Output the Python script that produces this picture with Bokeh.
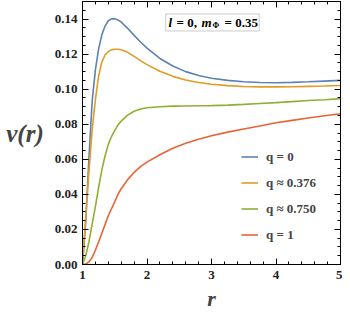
from bokeh.plotting import figure
from bokeh.models import (LinearAxis, Range1d, Label, Legend, LegendItem,
                          SingleIntervalTicker, NumeralTickFormatter, BoxAnnotation,
                          CustomJSTickFormatter)
from bokeh.embed import file_html
from bokeh.resources import INLINE

# ---- data ----
r = [1.0, 1.05, 1.1, 1.15, 1.2, 1.25, 1.3, 1.35, 1.4, 1.45, 1.5, 1.55, 1.6, 1.7, 1.8,
     1.9, 2.0, 2.2, 2.4, 2.6, 2.8, 3.0, 3.25, 3.5, 3.75, 4.0, 4.25, 4.5, 4.75, 5.0]
v_q0 = [0.0, 0.024, 0.061, 0.093, 0.111, 0.123, 0.131, 0.136, 0.1390, 0.1401, 0.1402,
        0.1395, 0.1383, 0.1347, 0.1307, 0.1269, 0.1234, 0.1175, 0.1132, 0.1100, 0.1078,
        0.1062, 0.1050, 0.1042, 0.1038, 0.1037, 0.1039, 0.1042, 0.1046, 0.1050]
v_q0376 = [0.0, 0.027, 0.053, 0.077, 0.094, 0.1075, 0.1155, 0.1195, 0.1215, 0.1224, 0.1228,
           0.1228, 0.1225, 0.1210, 0.1187, 0.1163, 0.1140, 0.1102, 0.1073, 0.1052, 0.1038,
           0.1028, 0.1020, 0.1015, 0.1013, 0.1013, 0.1014, 0.1016, 0.1018, 0.1021]
v_q0750 = [0.0, 0.005, 0.013, 0.023, 0.033, 0.044, 0.054, 0.062, 0.0685, 0.0730, 0.0765,
           0.0795, 0.0818, 0.0852, 0.0874, 0.0887, 0.0894, 0.0900, 0.0903, 0.0904, 0.0905,
           0.0906, 0.0909, 0.0913, 0.0918, 0.0923, 0.0929, 0.0935, 0.0940, 0.0946]
v_q1 = [0.0, 0.0003, 0.0015, 0.004, 0.0083, 0.0128, 0.0178, 0.0228, 0.0278, 0.0318, 0.0358,
        0.0400, 0.0432, 0.0484, 0.0525, 0.0558, 0.0584, 0.0626, 0.0663, 0.0692, 0.0714,
        0.0734, 0.0755, 0.0773, 0.0790, 0.0808, 0.0822, 0.0836, 0.0848, 0.0860]
series_labels = ["q = 0", "q ≈ 0.376", "q ≈ 0.750", "q = 1"]
colors = ["#5E81B5", "#E19C24", "#8FB032", "#EB6235"]

FONT = "Liberation Serif"

p = figure(width=342, height=313, x_range=Range1d(1, 5), y_range=Range1d(0, 0.15),
           output_backend="svg", toolbar_location=None,
           min_border_left=82, min_border_right=2, min_border_top=1, min_border_bottom=49)
p.title.visible = False
p.grid.visible = False
p.outline_line_color = "black"
p.background_fill_color = "white"
p.border_fill_color = "white"

def style(ax, show_labels):
    ax.axis_line_color = "black"
    ax.major_tick_line_color = "black"
    ax.minor_tick_line_color = "black"
    ax.major_tick_in = 6
    ax.major_tick_out = 0
    ax.minor_tick_in = 3
    ax.minor_tick_out = 0
    ax.major_label_text_font = FONT
    ax.major_label_text_font_style = "bold"
    ax.major_label_text_color = "#222222"
    if show_labels:
        ax.major_label_text_font_size = "13px"
    else:
        ax.formatter = CustomJSTickFormatter(code="return ''")
        ax.major_label_text_font_size = "1px"
        ax.major_label_standoff = 0

p.xaxis.ticker = SingleIntervalTicker(interval=1, num_minor_ticks=5)
p.yaxis.ticker = SingleIntervalTicker(interval=0.02, num_minor_ticks=4)
p.yaxis.formatter = NumeralTickFormatter(format="0.00")
style(p.xaxis[0], True)
style(p.yaxis[0], True)
p.xaxis.major_label_standoff = 6
p.yaxis.major_label_standoff = 5
p.xaxis.axis_label = "r"
p.xaxis.axis_label_text_font = FONT
p.xaxis.axis_label_text_font_style = "bold italic"
p.xaxis.axis_label_text_font_size = "22px"
p.xaxis.axis_label_standoff = 4

p.yaxis.axis_label = "v(r)"
p.yaxis.axis_label_orientation = "horizontal"
p.yaxis.axis_label_text_font = FONT
p.yaxis.axis_label_text_font_style = "bold italic"
p.yaxis.axis_label_text_font_size = "25px"
p.yaxis.axis_label_standoff = 8

rax = LinearAxis(ticker=SingleIntervalTicker(interval=0.02, num_minor_ticks=4))
style(rax, False)
p.add_layout(rax, "right")
tax = LinearAxis(ticker=SingleIntervalTicker(interval=1, num_minor_ticks=5))
style(tax, False)
p.add_layout(tax, "above")

ys = [v_q0, v_q0376, v_q0750, v_q1]
items = []
for y, c, lab in zip(ys, colors, series_labels):
    rr = p.line(r, y, line_color=c, line_width=1.6)
    items.append(LegendItem(label=lab, renderers=[rr]))

legend = Legend(items=items, location=(159, 20), border_line_alpha=0,
                background_fill_alpha=0, label_text_font=FONT,
                label_text_font_style="bold", label_text_font_size="13px",
                glyph_width=17, glyph_height=19, label_height=19, spacing=7,
                padding=0, margin=0, label_standoff=8)
p.add_layout(legend)

# info box
box = BoxAnnotation(left=2.29, right=3.74, top=0.1429, bottom=0.1332,
                    fill_color="white", fill_alpha=1, line_color="#555555", line_width=1)
p.add_layout(box)
ybox = (0.1429 + 0.1332) / 2
pieces = [("l", 0, "bold italic", "13px", 0),
          ("= 0,", 8, "bold", "13px", 0),
          ("m", 33, "bold italic", "13px", 0),
          ("Φ", 44, "bold", "8px", -3),
          ("= 0.35", 56, "bold", "13px", 0)]
for txt, dx, st, fs, dy in pieces:
    p.add_layout(Label(x=2.333, y=ybox, x_offset=dx, y_offset=dy, text=txt,
                       text_font=FONT, text_font_style=st, text_font_size=fs,
                       text_baseline="middle", text_align="left", text_color="black"))

open("out.html", "w").write(file_html(p, INLINE))
